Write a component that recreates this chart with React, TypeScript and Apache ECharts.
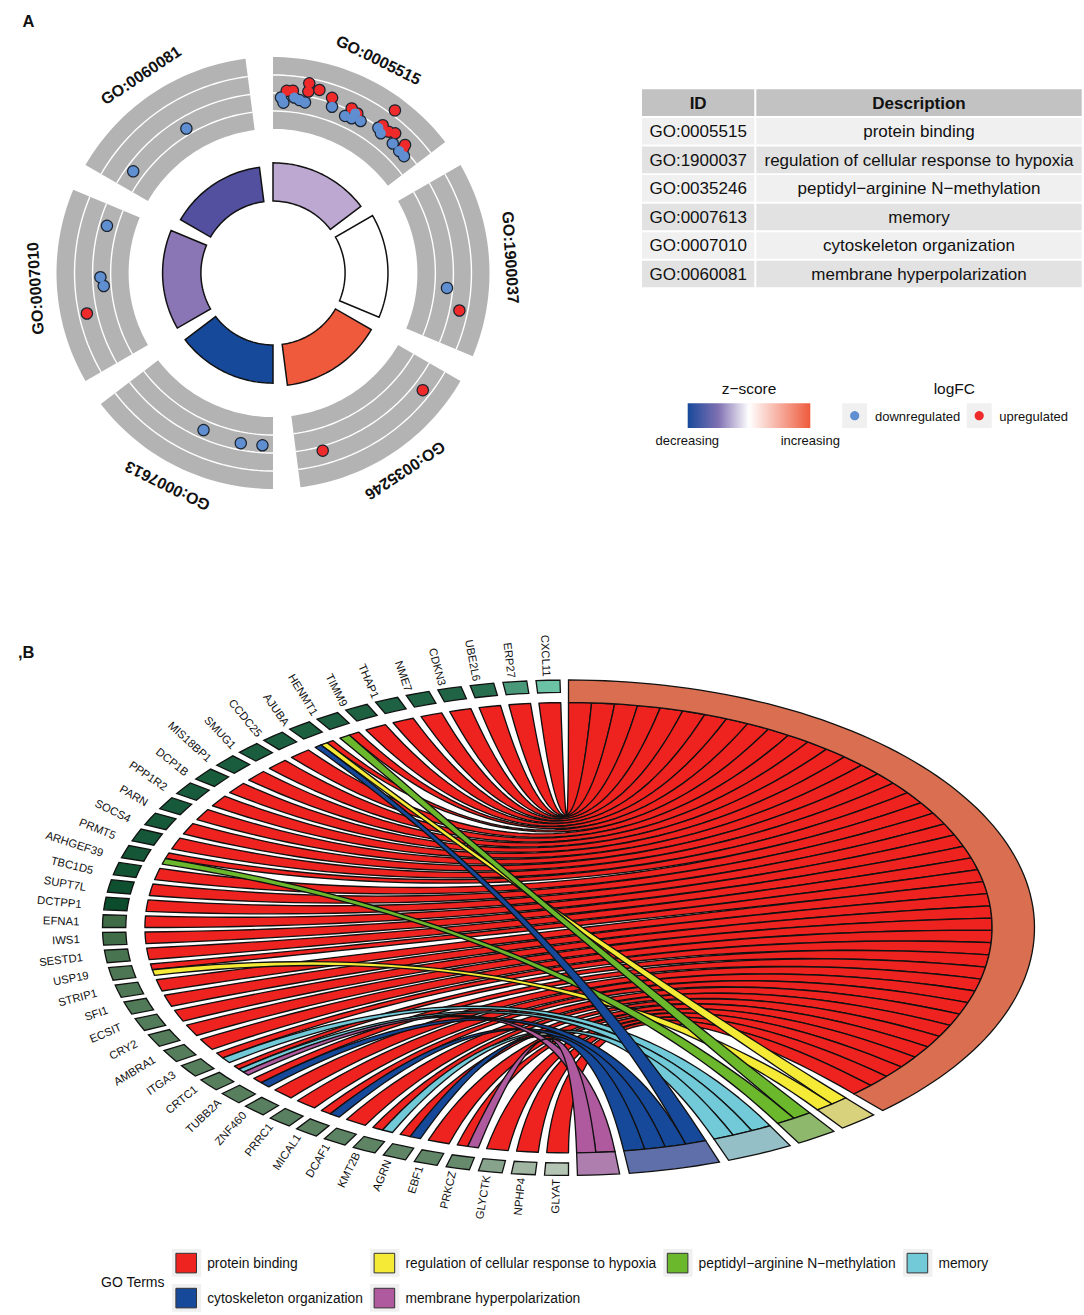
import React, { useEffect, useRef } from "react";
import * as echarts from "echarts";

const FONT = "'Liberation Sans', Arial, sans-serif";

// ---------- Panel A data ----------
const goIds = ["GO:0005515", "GO:1900037", "GO:0035246", "GO:0007613", "GO:0007010", "GO:0060081"];
const goDescriptions = [
  "protein binding",
  "regulation of cellular response to hypoxia",
  "peptidyl−arginine N−methylation",
  "memory",
  "cytoskeleton organization",
  "membrane hyperpolarization",
];
const sectorStarts = [0, 60, 120, 180, 240, 300];
const zscoreColors = ["#BDA8D2", "#FFFFFF", "#EF5A3C", "#17499B", "#8B76B5", "#5350A0"];
const zscoreOuter = [0.51, 0.531, 0.524, 0.51, 0.51, 0.493];
// [angle around the circle in degrees, logFC]
const upregulated = [
  [4.3, 0.15], [6.2, 0.19], [10.8, 0.73], [11.0, 0.27], [14.2, 0.49], [18.6, 0.27], [25.5, 0.13],
  [27.8, 0.02], [36.5, 0.22], [39.2, 0.13], [41.1, 0.3], [36.8, 1.28], [45.8, 0.21], [46.2, 0.01],
  [101.4, 0.54], [128.1, 0.55], [164.4, 0.25], [257.7, 0.56],
];
const downregulated = [
  [2.6, -0.24], [3.5, -0.52], [6.9, -0.18], [8.7, -0.28], [10.6, -0.36], [19.5, -0.2], [24.6, -0.4],
  [26.9, -0.36], [27.2, -0.03], [29.9, -0.26], [35.9, -0.04], [37.6, -0.2], [42.7, -0.21], [45.9, -0.26],
  [48.2, -0.26], [94.9, -0.32], [203.8, -0.46], [190.7, -0.38], [183.5, -0.41], [285.9, -0.43],
  [268.6, -0.43], [265.6, -0.59], [329.1, -0.65], [306.1, -0.41],
];

// ---------- Panel B data ----------
const geneNames = [
  "CXCL11", "ERP27", "UBE2L6", "CDKN3", "NME7", "THAP1", "TIMM9", "HENMT1", "AJUBA", "CCDC25", "SMUG1",
  "MIS18BP1", "DCP1B", "PPP1R2", "PARN", "SOCS4", "PRMT5", "ARHGEF39", "TBC1D5", "SUPT7L", "DCTPP1",
  "EFNA1", "IWS1", "SESTD1", "USP19", "STRIP1", "SFI1", "ECSIT", "CRY2", "AMBRA1", "ITGA3", "CRTC1",
  "TUBB2A", "ZNF460", "PRRC1", "MICAL1", "DCAF1", "KMT2B", "AGRN", "EBF1", "PRKCZ", "GLYCTK", "NPHP4", "GLYAT",
];
const geneLogFC = [
  2.0, 1.3, 0.6, 0.44, 0.42, 0.4, 0.38, 0.37, 0.36, 0.35, 0.34, 0.32, 0.3, 0.29, 0.27, 0.25, 0.22, 0.2, 0.15, 0.1, 0.03,
  -0.38, -0.4, -0.5, -0.55, -0.58, -0.6, -0.62, -0.64, -0.65, -0.66, -0.67, -0.68, -0.69, -0.7, -0.72, -0.74, -0.76,
  -0.78, -0.8, -0.85, -1.25, -1.55, -1.8,
];
const termNames = goDescriptions;
const termColors = ["#EE2320", "#F5EB37", "#6CB82D", "#72C9D8", "#17499B", "#AF5A9E"];
const termRingColors = ["#D96F50", "#D9D27D", "#8EB86C", "#95BFC7", "#5E6FA9", "#AE7FAE"];
const termStart = [0, 139.1, 145.3, 151.6, 161.1, 173.7];
const termEnd = [137.6, 144.0, 150.4, 159.9, 172.5, 178.9];
const hypoxiaGenes = ["AJUBA", "USP19"];
const methylationGenes = ["HENMT1", "ARHGEF39"];
const memoryGenes = ["ITGA3", "CRTC1", "KMT2B"];
const cytoskeletonGenes = ["AJUBA", "TUBB2A", "MICAL1", "AGRN"];
const membraneGenes = ["CRTC1", "PRKCZ"];
const termGenes = [geneNames, hypoxiaGenes, methylationGenes, memoryGenes, cytoskeletonGenes, membraneGenes];

// ---------- helpers ----------
const rad = (d: number) => (d * Math.PI) / 180;
const pt = (r: number, deg: number) => [r * Math.sin(rad(deg)), r * Math.cos(rad(deg))];
const arc = (r: number, a: number, b: number) => {
  const n = Math.max(2, Math.ceil(Math.abs(b - a) / 1.5));
  const out: number[][] = [];
  for (let i = 0; i <= n; i++) out.push(pt(r, a + ((b - a) * i) / n));
  return out;
};
const band = (r0: number, r1: number, a: number, b: number) => [...arc(r1, a, b), ...arc(r0, b, a)];
const fcToRadius = (fc: number) => 0.8333 + fc / 12;
const mix = (a: number[], b: number[], t: number) =>
  `rgb(${a.map((v, i) => Math.round(v + (b[i] - v) * t)).join(",")})`;
const geneColor = (fc: number) =>
  fc >= 0
    ? mix([10, 74, 42], [108, 194, 165], Math.min(1, fc / 2))
    : mix([31, 84, 41], [197, 210, 197], Math.min(1, -fc / 2));

const GENE_PITCH = 4.093;
const GENE_WIDTH = 2.95;
const geneHigh = (i: number) => 358.95 - i * GENE_PITCH;
const RIBBON_R = 0.909;

// slot of every ribbon at the term side and at the gene side
type Ribbon = { term: number; g0: number; g1: number; t0: number; t1: number };
const ribbons: Ribbon[] = [];
termGenes.forEach((list, term) => {
  const sorted = geneNames.filter((g) => list.includes(g));
  const w = (termEnd[term] - termStart[term]) / sorted.length;
  sorted.forEach((g, k) => {
    const gi = geneNames.indexOf(g);
    const memberOf = termGenes.map((l, t) => (l.includes(g) ? t : -1)).filter((t) => t >= 0);
    // from low angle to high angle: last term first, protein binding last
    const order = memberOf.slice().reverse();
    const pos = order.indexOf(term);
    const sub = GENE_WIDTH / order.length;
    const low = geneHigh(gi) - GENE_WIDTH;
    ribbons.push({
      term,
      g0: low + pos * sub,
      g1: low + (pos + 1) * sub,
      t0: termStart[term] + k * w,
      t1: termStart[term] + (k + 1) * w,
    });
  });
});

const bezier = (p: number[], q: number[]) => {
  const out: number[][] = [];
  const n = 40;
  for (let i = 1; i < n; i++) {
    const t = i / n;
    out.push([(1 - t) * (1 - t) * p[0] + t * t * q[0], (1 - t) * (1 - t) * p[1] + t * t * q[1]]);
  }
  return out;
};

const polyItem = (api: any, pts: number[][], style: any) => ({
  type: "polygon",
  shape: { points: pts.map((p) => api.coord(p)) },
  style,
});

function buildOption() {
  const panelA = { xAxisIndex: 0, yAxisIndex: 0 };
  const panelB = { xAxisIndex: 1, yAxisIndex: 1 };
  const sectorSpan = 52.7;

  const custom = (axes: any, data: any[], renderItem: any) => ({
    type: "custom",
    ...axes,
    coordinateSystem: "cartesian2d",
    clip: false,
    silent: true,
    data: data.map((_, i) => [0, 0, i]),
    renderItem,
  });
  const dots = (data: number[][], size: number, color: string) => ({
    type: "scatter",
    ...panelA,
    silent: true,
    clip: false,
    symbolSize: size,
    itemStyle: { color, opacity: 1 },
    data: data.map(([a, fc]) => pt(fcToRadius(fc), a)),
  });

  const series: any[] = [
    custom(panelA, sectorStarts, (p: any, api: any) =>
      polyItem(api, band(0.667, 1, sectorStarts[p.dataIndex], sectorStarts[p.dataIndex] + sectorSpan), {
        fill: "#B3B3B3",
        stroke: "none",
      })
    ),
    custom(
      panelA,
      sectorStarts.flatMap((s) => [s, s, s]),
      (p: any, api: any) => {
        const s = sectorStarts[Math.floor(p.dataIndex / 3)];
        const r = [0.75, 0.8333, 0.9167][p.dataIndex % 3];
        return {
          type: "polyline",
          shape: { points: arc(r, s, s + sectorSpan).map((q) => api.coord(q)) },
          style: { stroke: "#FFFFFF", lineWidth: 1.4, fill: "none" },
        };
      }
    ),
    custom(panelA, sectorStarts, (p: any, api: any) => {
      const i = p.dataIndex;
      return polyItem(api, band(0.333, zscoreOuter[i], sectorStarts[i], sectorStarts[i] + sectorSpan), {
        fill: zscoreColors[i],
        stroke: "#111111",
        lineWidth: 1.5,
      });
    }),
    custom(panelA, goIds, (p: any, api: any) => {
      const deg = sectorStarts[p.dataIndex] + 26.3;
      const c = api.coord(pt(1.1, deg));
      return {
        type: "text",
        x: c[0],
        y: c[1],
        rotation: -rad(deg),
        style: {
          text: goIds[p.dataIndex],
          x: 0,
          y: 0,
          align: "center",
          verticalAlign: "middle",
          textAlign: "center",
          textVerticalAlign: "middle",
          fill: "#111111",
          fontFamily: FONT,
          fontWeight: "bold",
          fontSize: 16,
        },
      };
    }),
    dots([...upregulated, ...downregulated], 12.5, "#1C2430"),
    dots(upregulated, 10, "#EE2A2A"),
    dots(downregulated, 10, "#5F8FD0"),
    custom(panelB, ribbons, (p: any, api: any) => {
      const r = ribbons[p.dataIndex];
      const pts = [
        ...arc(RIBBON_R, r.g0, r.g1),
        ...bezier(pt(RIBBON_R, r.g1), pt(RIBBON_R, r.t0)),
        ...arc(RIBBON_R, r.t0, r.t1),
        ...bezier(pt(RIBBON_R, r.t1), pt(RIBBON_R, r.g0)),
      ];
      return polyItem(api, pts, {
        fill: termColors[r.term],
        stroke: "#111111",
        lineWidth: 1.35,
        lineJoin: "round",
      });
    }),
    custom(panelB, termNames, (p: any, api: any) =>
      polyItem(api, band(0.909, 1, termStart[p.dataIndex], termEnd[p.dataIndex]), {
        fill: termRingColors[p.dataIndex],
        stroke: "#111111",
        lineWidth: 1.3,
      })
    ),
    custom(panelB, geneNames, (p: any, api: any) => {
      const hi = geneHigh(p.dataIndex);
      return polyItem(api, band(0.95, 1, hi - GENE_WIDTH, hi), {
        fill: geneColor(geneLogFC[p.dataIndex]),
        stroke: "#111111",
        lineWidth: 1.3,
      });
    }),
    custom(panelB, geneNames, (p: any, api: any) => {
      const deg = geneHigh(p.dataIndex) - GENE_WIDTH / 2;
      const s = Math.abs(Math.sin(rad(deg)));
      const anchor =
        deg > 270
          ? deg - 1.1 * Math.min(1, (deg - 270) / 15, (360 - deg) / 25)
          : deg + 0.5 * Math.min(1, (270 - deg) / 20, (deg - 180) / 15);
      const c = api.coord(pt(1.015 + 0.035 * s * s * s * s, anchor));
      return {
        type: "text",
        x: c[0],
        y: c[1],
        rotation: -rad(deg - 270),
        style: {
          text: geneNames[p.dataIndex],
          x: 0,
          y: 0,
          align: "right",
          verticalAlign: "middle",
          textAlign: "right",
          textVerticalAlign: "middle",
          fill: "#111111",
          fontFamily: FONT,
          fontSize: 11.3,
        },
      };
    }),
  ];

  // ---------- table and legends ----------
  const txt = (text: string, x: number, y: number, fontSize: number, align = "left", weight = "normal") => ({
    type: "text",
    x,
    y,
    z: 10,
    silent: true,
    style: {
      text,
      align,
      verticalAlign: "middle",
      textAlign: align,
      textVerticalAlign: "middle",
      fill: "#111111",
      fontFamily: FONT,
      fontSize,
      fontWeight: weight,
    },
  });
  const box = (x: number, y: number, w: number, h: number, fill: any, stroke?: string) => ({
    type: "rect",
    z: 9,
    silent: true,
    shape: { x, y, width: w, height: h },
    style: { fill, stroke: stroke || "none", lineWidth: stroke ? 1.2 : 0 },
  });

  const g: any[] = [txt("A", 22.5, 21, 16.5, "left", "bold"), txt(",B", 18, 651.5, 16.5, "left", "bold")];

  const idX = 642, idW = 112.3, descX = 756.3, descW = 325.4;
  g.push(box(idX, 89.3, idW, 26.7, "#C2C2C2"), box(descX, 89.3, descW, 26.7, "#C2C2C2"));
  g.push(txt("ID", idX + idW / 2, 103, 17, "center", "bold"), txt("Description", descX + descW / 2, 103, 17, "center", "bold"));
  goIds.forEach((id, i) => {
    const y = 118 + i * 28.55;
    const fill = i % 2 === 0 ? "#F0F0F0" : "#E2E2E2";
    g.push(box(idX, y, idW, 26.6, fill), box(descX, y, descW, 26.6, fill));
    g.push(txt(id, idX + idW / 2, y + 13.5, 17, "center"), txt(goDescriptions[i], descX + descW / 2, y + 13.5, 17, "center"));
  });

  g.push(txt("z−score", 749, 388.5, 15.5, "center"), txt("logFC", 954.3, 388.5, 15.5, "center"));
  g.push(
    box(
      687.7,
      403.3,
      122.6,
      24.7,
      new echarts.graphic.LinearGradient(0, 0, 1, 0, [
        { offset: 0, color: "#17499B" },
        { offset: 0.25, color: "#8071B2" },
        { offset: 0.5, color: "#FFFFFF" },
        { offset: 1, color: "#EE5A3C" },
      ])
    )
  );
  g.push(txt("decreasing", 687.3, 440.7, 13, "center"), txt("increasing", 810.3, 440.7, 13, "center"));
  g.push(box(842.3, 403.3, 24.7, 24.7, "#F0F0F0"), box(966.7, 403.3, 25, 24.7, "#F0F0F0"));
  g.push(
    { type: "circle", z: 10, silent: true, shape: { cx: 854.7, cy: 415.7, r: 4.6 }, style: { fill: "#5F8FD0" } },
    { type: "circle", z: 10, silent: true, shape: { cx: 979.2, cy: 415.7, r: 4.6 }, style: { fill: "#EE2A2A" } }
  );
  g.push(txt("downregulated", 875, 416, 13), txt("upregulated", 999.3, 416, 13));

  g.push(txt("GO Terms", 101, 1281.5, 14));
  const legendX = [175.9, 374.1, 667.3, 907.1, 175.9, 374.1];
  const legendY = [1253.3, 1253.3, 1253.3, 1253.3, 1288.3, 1288.3];
  termNames.forEach((name, i) => {
    g.push(box(legendX[i] - 4, legendY[i] - 4.3, 29.3, 27.7, "#F0F0F0"));
    g.push({
      type: "rect",
      z: 10,
      silent: true,
      shape: { x: legendX[i], y: legendY[i], width: 20.6, height: 19.6 },
      style: { fill: termColors[i], stroke: "#333333", lineWidth: 1 },
    });
    g.push(txt(name, legendX[i] + 31.3, legendY[i] + 10.5, 13.8));
  });

  return {
    animation: false,
    backgroundColor: "#FFFFFF",
    grid: [
      { left: 56.5, top: 57, width: 433, height: 432, containLabel: false },
      { left: 102.5, top: 680, width: 932, height: 495.4, containLabel: false },
    ],
    xAxis: [0, 1].map((gridIndex) => ({ type: "value", gridIndex, min: -1, max: 1, show: false })),
    yAxis: [0, 1].map((gridIndex) => ({ type: "value", gridIndex, min: -1, max: 1, show: false })),
    series,
    graphic: { elements: g },
  };
}

export default function App() {
  const ref = useRef<HTMLDivElement>(null);
  useEffect(() => {
    document.body.style.margin = "0";
    const chart = echarts.init(ref.current!, undefined, { renderer: "svg" });
    chart.setOption(buildOption() as any);
    return () => chart.dispose();
  }, []);
  return <div ref={ref} style={{ position: "absolute", left: 0, top: 0, width: 1084, height: 1315 }} />;
}
